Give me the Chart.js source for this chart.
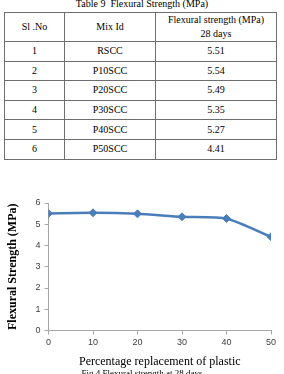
<!DOCTYPE html>
<html>
<head>
<meta charset="utf-8">
<script src="https://cdn.jsdelivr.net/npm/chart.js@4.4.1/dist/chart.umd.min.js"></script>
<style>
  html, body { margin: 0; padding: 0; background: #ffffff; }
  body { width: 284px; height: 374px; position: relative; overflow: hidden; font-family: "Liberation Serif", serif; color: #000; }
  #ttl { position: absolute; left: 0; width: 284px; top: -2px; text-align: center; font-size: 10px; line-height: 12px; }
  table { position: absolute; left: 4px; top: 12px; border-collapse: collapse; font-size: 10px; }
  td { border: 1px solid #6e6e6e; text-align: center; vertical-align: middle; padding: 0; line-height: 14px; }
  tr.h td { height: 26px; }
  tr.r td { height: 18.6px; }
  #cap { position: absolute; left: 0; width: 284px; top: 368px; text-align: center; font-size: 9px; line-height: 11px; }
  #wrap { position: absolute; left: 0; top: 190px; width: 284px; height: 184px; }
</style>
</head>
<body>
<div id="ttl">Table 9 &nbsp;Flexural Strength (MPa)</div>
<table id="tbl"></table>
<div id="wrap"><canvas id="c" width="284" height="184"></canvas></div>
<div id="cap">Fig 4 Flexural strength at 28 days</div>
<script>
const slNo = ["1", "2", "3", "4", "5", "6"];
const mixIds = ["RSCC", "P10SCC", "P20SCC", "P30SCC", "P40SCC", "P50SCC"];
const plasticPct = [0, 10, 20, 30, 40, 50];
const flexural28 = [5.51, 5.54, 5.49, 5.35, 5.27, 4.41];
const headers = ["Sl .No", "Mix Id", "Flexural strength (MPa)<br>28 days"];
const colWidths = [60, 91, 121];

const tbl = document.getElementById('tbl');
let html = '<tr class="h">' + headers.map((h, i) => '<td style="width:' + (colWidths[i] - 1) + 'px">' + h + '</td>').join('') + '</tr>';
for (let i = 0; i < slNo.length; i++) {
  html += '<tr class="r"><td>' + slNo[i] + '</td><td>' + mixIds[i] + '</td><td>' + flexural28[i].toFixed(2) + '</td></tr>';
}
tbl.innerHTML = html;

const blue = '#4a7ebb';
new Chart(document.getElementById('c'), {
  type: 'line',
  data: {
    datasets: [{
      data: plasticPct.map((x, i) => ({ x: x, y: flexural28[i] })),
      borderColor: blue,
      backgroundColor: blue,
      borderWidth: 2.5,
      pointStyle: 'rectRot',
      pointRadius: 4,
      pointBorderWidth: 1,
      tension: 0.2,
      fill: false
    }]
  },
  options: {
    responsive: false,
    animation: false,
    events: [],
    layout: { padding: { top: 13, right: 13, left: 0, bottom: 0 } },
    plugins: { legend: { display: false }, tooltip: { enabled: false } },
    scales: {
      x: {
        type: 'linear',
        min: 0, max: 50,
        afterBuildTicks: (s) => { s.ticks = plasticPct.map(v => ({ value: v })); },
        grid: { drawOnChartArea: false, drawTicks: true, tickLength: 4, color: '#a6a6a6' },
        border: { color: '#a6a6a6', width: 1 },
        ticks: { color: '#404040', font: { family: 'Liberation Sans', size: 9 }, padding: 3, maxRotation: 0 },
        title: { display: true, text: 'Percentage replacement of plastic', color: '#000', font: { family: 'Liberation Serif', size: 12 }, padding: { top: 2, bottom: 5 } },
        afterFit: (s) => { s.height = 43.5; }
      },
      y: {
        min: 0, max: 6,
        ticks: { stepSize: 1, color: '#404040', font: { family: 'Liberation Sans', size: 9 }, padding: 4 },
        grid: { drawOnChartArea: false, drawTicks: true, tickLength: 4, color: '#a6a6a6' },
        border: { color: '#a6a6a6', width: 1 },
        title: { display: true, text: 'Flexural Strength (MPa)', color: '#000', font: { family: 'Liberation Serif', size: 12, weight: 'bold' }, padding: { top: 6, bottom: 0 } },
        afterFit: (s) => { s.width = 48.5; }
      }
    }
  }
});
</script>
</body>
</html>
